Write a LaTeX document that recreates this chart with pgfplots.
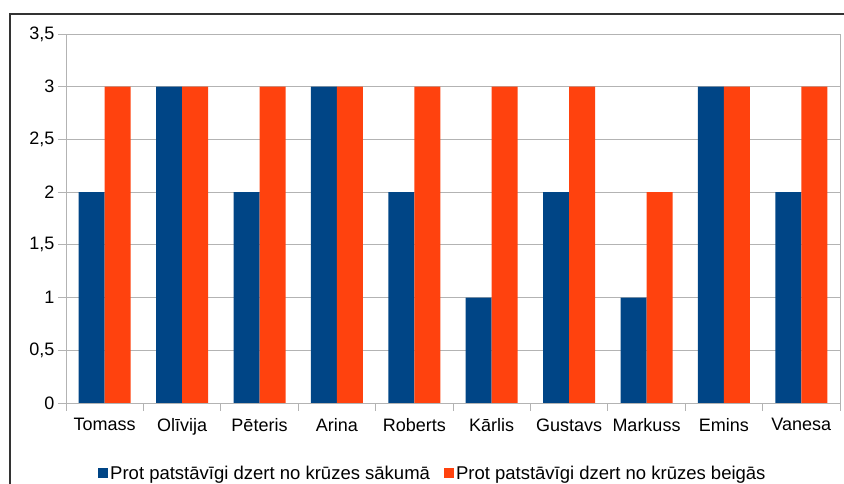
\documentclass[border=0pt]{standalone}
\usepackage{fontspec}
\setmainfont{Liberation Sans}
\usepackage{pgfplots}
\pgfplotsset{compat=1.18}
\definecolor{cblue}{HTML}{004586}
\definecolor{corange}{HTML}{FF420E}
\definecolor{cgrid}{HTML}{B3B3B3}
\begin{document}
\begin{tikzpicture}[x=1pt,y=1pt]
\useasboundingbox (0,0) rectangle (844,484);
\draw[color=black!80, line width=1.5pt] (10,0) -- (10,470) -- (844,470);
\begin{axis}[at={(66pt,81pt)}, anchor=south west, scale only axis,
  width=774pt, height=369pt,
  ybar=0pt, bar width=26pt,
  xmin=-0.5, xmax=9.5, ymin=0, ymax=3.5,
  xtick={0,...,9},
  xticklabels={Tomass,Olīvija,Pēteris,Arina,Roberts,Kārlis,Gustavs,Markuss,Emins,Vanesa},
  minor xtick={-0.5,0.5,...,9.5},
  ytick={0,0.5,...,3.5},
  yticklabels={0,{0,5},1,{1,5},2,{2,5},3,{3,5}},
  xtick pos=bottom, ytick pos=left,
  tick align=outside,
  major x tick style={draw=none},
  minor tick length=8pt, major tick length=8pt,
  tick style={color=cgrid, line width=0.8pt},
  ymajorgrids, grid style={color=cgrid, line width=0.8pt},
  axis line style={color=cgrid, line width=0.8pt},
  tick label style={font=\fontsize{18}{21}\selectfont, text=black},
  xticklabel style={yshift=-4pt},
  legend style={at={(0.474,-0.19)}, anchor=center, draw=none, fill=none,
    legend columns=2, font=\fontsize{18.5}{21}\selectfont,
    /tikz/every odd column/.append style={inner xsep=1pt},
    /tikz/every even column/.append style={column sep=12pt, inner xsep=4pt}},
  legend image code/.code={\fill[#1] (0pt,-5pt) rectangle (10pt,5pt);},
]
\addplot[fill=cblue, draw=none] coordinates {(0,2) (1,3) (2,2) (3,3) (4,2) (5,1) (6,2) (7,1) (8,3) (9,2)};
\addplot[fill=corange, draw=none] coordinates {(0,3) (1,3) (2,3) (3,3) (4,3) (5,3) (6,3) (7,2) (8,3) (9,3)};
\legend{Prot patstāvīgi dzert no krūzes sākumā, Prot patstāvīgi dzert no krūzes beigās}
\end{axis}
\end{tikzpicture}
\end{document}
